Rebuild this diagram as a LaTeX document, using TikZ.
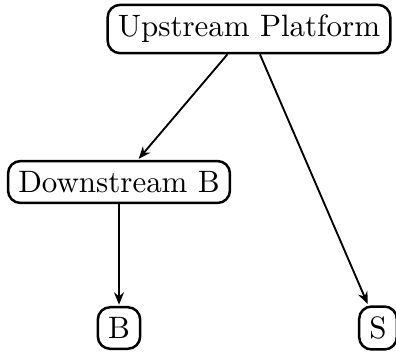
\documentclass[tikz,border=0pt]{standalone}
\usetikzlibrary{arrows.meta}
\begin{document}
\begin{tikzpicture}[x=0.323pt,y=-0.323pt,
  box/.style={draw,rounded corners=4pt,thick,inner sep=3.3pt},
  edge/.style={-{Stealth[length=4pt,width=3.2pt]},semithick,shorten >=0.4pt}]
\useasboundingbox (0,0) rectangle (396,356);
\node[box] (up) at (249,29) {Upstream Platform};
\node[box] (down) at (119,182) {Downstream B};
\node[box] (b) at (119,328) {B};
\node[box] (s) at (378,328) {S};
\draw[edge] (up) -- (down);
\draw[edge] (up) -- (s);
\draw[edge] (down) -- (b);
\end{tikzpicture}
\end{document}
